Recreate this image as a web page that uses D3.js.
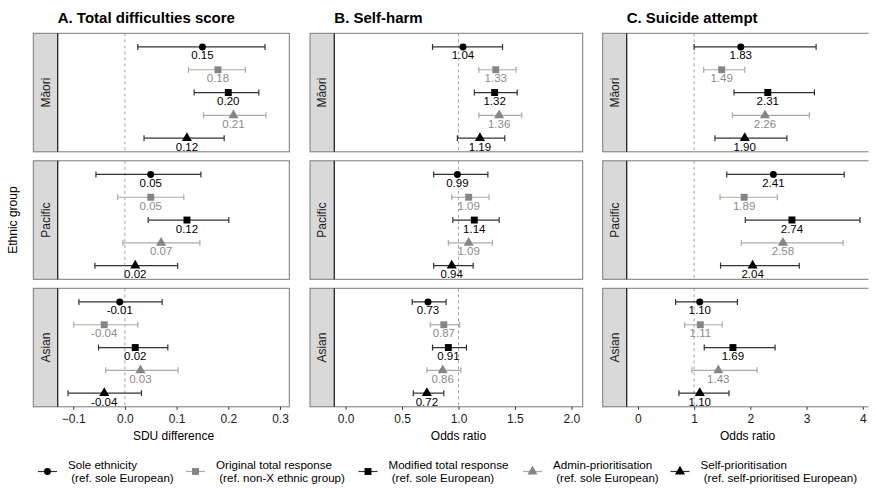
<!DOCTYPE html>
<html>
<head>
<meta charset="utf-8">
<script src="https://cdn.jsdelivr.net/npm/d3@7"></script>
<style>
  body { margin: 0; background: #fff; }
  text { font-family: "Liberation Sans", Arial, sans-serif; }
</style>
</head>
<body>
<svg id="chart" width="875" height="489"></svg>
<script>
// --- data ---
const groups = ["Māori", "Pacific", "Asian"];
const methods = ["sole", "orig", "mod", "admin", "self"];
const methodLabels = [
  ["Sole ethnicity", " (ref. sole European)"],
  ["Original total response", " (ref. non-X ethnic group)"],
  ["Modified total response", " (ref. sole European)"],
  ["Admin-prioritisation", " (ref. sole European)"],
  ["Self-prioritisation", " (ref. self-prioritised European)"]
];

// rows: Māori x5, Pacific x5, Asian x5 (method order as above)
const tdsEst  = [0.15, 0.18, 0.20, 0.21, 0.12,  0.05, 0.05, 0.12, 0.07, 0.02,  -0.01, -0.04, 0.02, 0.03, -0.04];
const tdsLow  = [0.025, 0.123, 0.134, 0.152, 0.037,  -0.056, -0.014, 0.045, -0.004, -0.058,  -0.089, -0.099, -0.051, -0.037, -0.110];
const tdsHigh = [0.271, 0.233, 0.259, 0.273, 0.192,  0.147, 0.114, 0.201, 0.145, 0.102,  0.072, 0.025, 0.083, 0.103, 0.032];

const harmEst  = [1.04, 1.33, 1.32, 1.36, 1.19,  0.99, 1.09, 1.14, 1.09, 0.94,  0.73, 0.87, 0.91, 0.86, 0.72];
const harmLow  = [0.77, 1.18, 1.14, 1.18, 0.99,  0.78, 0.94, 0.95, 0.91, 0.78,  0.59, 0.75, 0.77, 0.72, 0.60];
const harmHigh = [1.39, 1.51, 1.52, 1.56, 1.41,  1.26, 1.27, 1.36, 1.30, 1.13,  0.89, 1.01, 1.07, 1.02, 0.87];

const suicEst  = [1.83, 1.49, 2.31, 2.26, 1.90,  2.41, 1.89, 2.74, 2.58, 2.04,  1.10, 1.11, 1.69, 1.43, 1.10];
const suicLow  = [1.00, 1.17, 1.71, 1.68, 1.37,  1.58, 1.46, 1.91, 1.84, 1.47,  0.67, 0.83, 1.18, 0.96, 0.73];
const suicHigh = [3.17, 1.90, 3.14, 3.05, 2.65,  3.67, 2.48, 3.95, 3.65, 2.87,  1.77, 1.50, 2.44, 2.12, 1.62];

const tdsTicks = [-0.1, 0, 0.1, 0.2, 0.3];
const harmTicks = [0, 0.5, 1, 1.5, 2];
const suicTicks = [0, 1, 2, 3, 4];

// --- styles ---
const markStyle = {
  sole:  { shape: d3.symbolCircle,   size: 38, fill: "#000", bar: "#333", label: "#000" },
  orig:  { shape: d3.symbolSquare,   size: 48, fill: "#858585", bar: "#aaa", label: "#8c8c8c" },
  mod:   { shape: d3.symbolSquare,   size: 48, fill: "#000", bar: "#333", label: "#000" },
  admin: { shape: d3.symbolTriangle, size: 44, fill: "#858585", bar: "#aaa", label: "#8c8c8c" },
  self:  { shape: d3.symbolTriangle, size: 44, fill: "#000", bar: "#333", label: "#000" }
};

const panels = [
  { title: "A. Total difficulties score", xlab: "SDU difference", est: tdsEst, low: tdsLow, high: tdsHigh,
    domain: [-0.13, 0.318], ticks: tdsTicks, fmt: d3.format(".1f"), ref: 0,
    left: 33.3, stripRight: 57.7, right: 289.3 },
  { title: "B. Self-harm", xlab: "Odds ratio", est: harmEst, low: harmLow, high: harmHigh,
    domain: [-0.1, 2.1], ticks: harmTicks, fmt: d3.format(".1f"), ref: 1,
    left: 310, stripRight: 334.3, right: 582.7 },
  { title: "C. Suicide attempt", xlab: "Odds ratio", est: suicEst, low: suicLow, high: suicHigh,
    domain: [-0.2, 4.2], ticks: suicTicks, fmt: d3.format("d"), ref: 1,
    left: 602.7, stripRight: 626.7, right: 874, clip: 868.5 }
];

const svg = d3.select("#chart");

// facet rows
const rowScale = d3.scaleBand()
  .domain(groups)
  .range([33.3, 406.8])
  .paddingInner(9 / 127.5)
  .paddingOuter(0);

const defs = svg.append("defs");

panels.forEach((p, pi) => {
  const x = d3.scaleLinear().domain(p.domain).range([p.stripRight, p.right]);
  const g = svg.append("g").attr("class", "panel-" + pi);

  if (p.clip) {
    defs.append("clipPath").attr("id", "clip" + pi)
      .append("rect").attr("x", 0).attr("y", 0).attr("width", p.clip).attr("height", 489);
    g.attr("clip-path", `url(#clip${pi})`);
  }

  // title
  svg.append("text")
    .attr("x", p.stripRight)
    .attr("y", 22.5)
    .attr("font-size", 15)
    .attr("font-weight", "bold")
    .attr("fill", "#000")
    .text(p.title);

  groups.forEach((grp, gi) => {
    const top = rowScale(grp);
    const h = rowScale.bandwidth();
    const y = d3.scalePoint().domain(methods).range([top, top + h]).padding(0.6);

    // strip
    g.append("rect")
      .attr("x", p.left).attr("y", top)
      .attr("width", p.stripRight - p.left).attr("height", h)
      .attr("fill", "#d9d9d9");

    g.append("text")
      .attr("transform", `translate(${(p.left + p.stripRight) / 2 + 4.3},${top + h / 2}) rotate(-90)`)
      .attr("text-anchor", "middle")
      .attr("font-size", 12)
      .attr("fill", "#1a1a1a")
      .text(grp);

    // reference line
    g.append("line")
      .attr("x1", x(p.ref)).attr("x2", x(p.ref))
      .attr("y1", top).attr("y2", top + h)
      .attr("stroke", "#999")
      .attr("stroke-width", 0.9)
      .attr("stroke-dasharray", "3,3");

    // border
    g.append("rect")
      .attr("x", p.left).attr("y", top)
      .attr("width", p.right - p.left).attr("height", h)
      .attr("fill", "none")
      .attr("stroke", "#7a7a7a")
      .attr("stroke-width", 1);

    g.append("line")
      .attr("x1", p.stripRight).attr("x2", p.stripRight)
      .attr("y1", top).attr("y2", top + h)
      .attr("stroke", "#222")
      .attr("stroke-width", 1.3);

    methods.forEach((m, mi) => {
      const i = gi * methods.length + mi;
      const st = markStyle[m];
      const cy = y(m);
      const lo = x(p.low[i]), hi = x(p.high[i]), cx = x(p.est[i]);

      // error bar
      g.append("line")
        .attr("x1", lo).attr("x2", hi).attr("y1", cy).attr("y2", cy)
        .attr("stroke", st.bar).attr("stroke-width", 1.2);
      [lo, hi].forEach((v) => {
        g.append("line")
          .attr("x1", v).attr("x2", v).attr("y1", cy - 3).attr("y2", cy + 3)
          .attr("stroke", st.bar).attr("stroke-width", 1.2);
      });

      // point
      g.append("path")
        .attr("d", d3.symbol().type(st.shape).size(st.size)())
        .attr("transform", `translate(${cx},${cy})`)
        .attr("fill", st.fill);

      // value label
      g.append("text")
        .attr("x", cx)
        .attr("y", cy + 12.5)
        .attr("text-anchor", "middle")
        .attr("font-size", 11.5)
        .attr("fill", st.label)
        .text(p.est[i].toFixed(2));
    });
  });

  // x axis
  const axis = svg.append("g")
    .attr("transform", `translate(0,${rowScale.range()[1]})`)
    .call(d3.axisBottom(x).tickValues(p.ticks).tickFormat(p.fmt).tickSize(3).tickPadding(5));
  axis.select(".domain").remove();
  axis.selectAll(".tick line").attr("stroke", "#333");
  axis.selectAll(".tick text")
    .attr("font-size", 12)
    .attr("font-family", "Liberation Sans, Arial, sans-serif")
    .attr("fill", "#1a1a1a");

  svg.append("text")
    .attr("x", (p.stripRight + Math.min(p.right, p.clip || p.right)) / 2)
    .attr("y", 439.5)
    .attr("text-anchor", "middle")
    .attr("font-size", 12)
    .attr("fill", "#000")
    .text(p.xlab);
});

// y axis title
svg.append("text")
  .attr("transform", `translate(17,${(rowScale.range()[0] + rowScale.range()[1]) / 2}) rotate(-90)`)
  .attr("text-anchor", "middle")
  .attr("font-size", 12)
  .attr("fill", "#000")
  .text("Ethnic group");

// --- legend ---
const legendX = [47.5, 195.5, 368, 532.5, 680];
const legendY = 471.5;
const legend = svg.append("g").attr("class", "legend");

methods.forEach((m, mi) => {
  const st = markStyle[m];
  const kx = legendX[mi];
  legend.append("line")
    .attr("x1", kx - 9.5).attr("x2", kx + 9.5)
    .attr("y1", legendY).attr("y2", legendY)
    .attr("stroke", st.bar).attr("stroke-width", 1.2);
  legend.append("path")
    .attr("d", d3.symbol().type(st.shape).size(st.size)())
    .attr("transform", `translate(${kx},${legendY})`)
    .attr("fill", st.fill);

  // two separate lines so they do not share one box
  methodLabels[mi].forEach((line, li) => {
    legend.append("text")
      .attr("x", kx + 20.5)
      .attr("y", legendY - 2.5 + li * 12.5)
      .attr("font-size", 11.6)
      .attr("fill", "#000")
      .style("white-space", "pre")
      .text(line);
  });
});
</script>
</body>
</html>
